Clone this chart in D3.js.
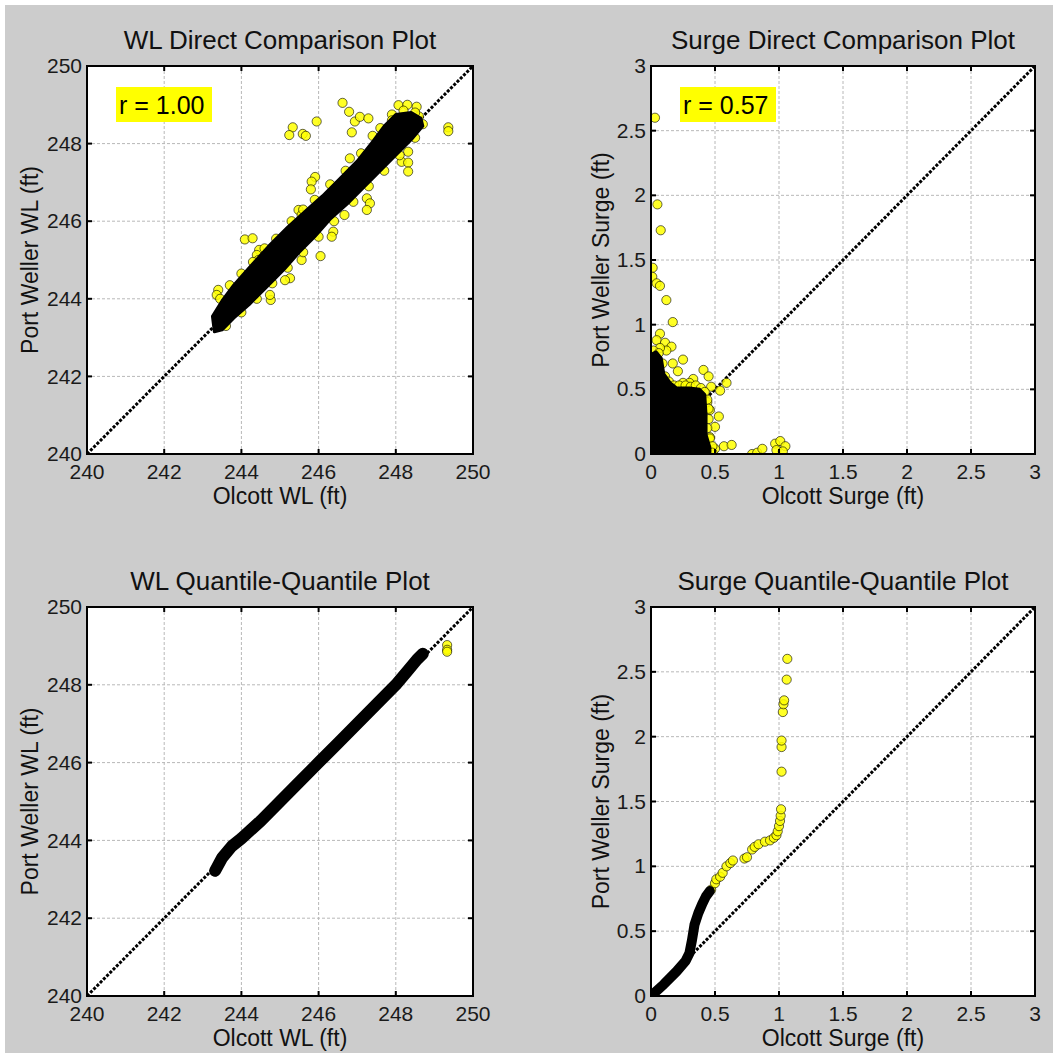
<!DOCTYPE html>
<html>
<head>
<meta charset="utf-8">
<script src="https://d3js.org/d3.v7.min.js"></script>
<style>
  body { margin: 0; background: #fff; }
  text { font-family: "Liberation Sans", Arial, Helvetica, sans-serif; }
</style>
</head>
<body>
<svg id="vis"></svg>
<script>
  var W = 1058, H = 1057

  // ticks
  var wlTicks = [240, 242, 244, 246, 248, 250]
  var surgeTicks = [0, 0.5, 1, 1.5, 2, 2.5, 3]

  // WL direct comparison: dense cloud outline (top edge, bottom edge), edge points and loose points
  var wlBandTop = [[243.25,243.55],[243.5,243.95],[243.8,244.35],[244.2,244.8],[244.7,245.35],[245.2,245.85],
    [245.7,246.3],[246.1,246.65],[246.5,247.05],[247.0,247.55],[247.4,248.05],[247.7,248.45],[248.0,248.75],
    [248.4,248.8],[248.65,248.65]]
  var wlBandBottom = [[248.7,248.45],[248.4,248.1],[248.0,247.7],[247.6,247.3],[247.2,246.9],[246.8,246.5],
    [246.3,246.05],[245.9,245.6],[245.5,245.2],[245.1,244.75],[244.6,244.25],[244.2,243.85],[243.8,243.5],
    [243.5,243.2],[243.3,243.15]]
  var wlEdgePts = [[243.45,244.0],[243.7,244.35],[244.0,244.65],[244.3,244.95],[244.6,245.3],[244.9,245.55],
    [245.3,246.0],[245.6,246.3],[245.9,246.55],[246.3,246.95],[246.7,247.3],[247.1,247.75],[247.4,248.2],
    [247.6,248.4],[247.9,248.6],[248.2,248.85],[248.5,248.8],[243.6,243.3],[244.0,243.65],[244.4,244.0],
    [244.8,244.4],[245.2,244.8],[245.6,245.2],[246.0,245.6],[246.4,246.0],[246.9,246.5],[247.3,246.9],
    [247.7,247.3],[248.1,247.7],[248.5,248.15],[248.7,248.5]]
  var wlDirectPts = [[246.62,249.05],[246.79,248.82],[246.94,248.57],[247.07,248.69],[247.29,248.65],[245.95,248.57],
    [245.33,248.42],[245.24,248.22],[245.59,248.25],[245.67,248.20],[246.86,248.29],[249.36,248.42],[249.36,248.32],
    [248.32,247.79],[248.15,247.53],[248.32,247.51],[248.32,247.28],[246.81,247.62],[245.91,247.14],[245.82,247.02],
    [245.80,246.82],[247.25,246.59],[247.33,246.46],[247.25,246.29],[245.48,246.29],[245.56,246.16],[246.38,245.73],
    [246.05,245.10],[245.56,245.0],[244.09,245.53],[244.29,245.56],[244.46,245.26],[244.40,245.13],[244.44,245.0],
    [245.26,244.53],[245.13,244.48],[244.76,243.97],[244.74,244.10],[243.40,244.23],[243.36,244.10],[248.07,248.99],
    [248.54,248.95],[248.3,249.0],[246.34,245.60],[246.67,246.16],[247.9,248.75],[248.6,248.7]]

  // Surge direct comparison
  var surgeBandTop = [[0,0],[0,0.77],[0.04,0.79],[0.08,0.74],[0.10,0.62],[0.15,0.55],[0.2,0.51],[0.3,0.51],
    [0.38,0.5],[0.42,0.46],[0.43,0.3],[0.43,0.15],[0.46,0.05],[0.46,0]]
  var surgeEdgePts = [[0.02,0.8],[0.06,0.78],[0.09,0.7],[0.11,0.6],[0.14,0.56],[0.18,0.53],[0.22,0.53],[0.27,0.53],
    [0.31,0.52],[0.35,0.53],[0.39,0.51],[0.42,0.48],[0.44,0.42],[0.45,0.35],[0.45,0.27],[0.44,0.2],[0.46,0.12],
    [0.48,0.06],[0.48,0.01]]
  var surgeDirectPts = [[0.031,2.60],[0.05,1.93],[0.076,1.73],[0.013,1.44],[0.01,1.37],[0.044,1.32],[0.07,1.30],
    [0.12,1.19],[0.17,1.02],[0.07,0.93],[0.044,0.88],[0.11,0.86],[0.16,0.83],[0.25,0.73],[0.21,0.64],[0.17,0.70],
    [0.41,0.65],[0.45,0.60],[0.33,0.58],[0.59,0.55],[0.54,0.49],[0.47,0.52],[0.46,0.34],[0.53,0.29],[0.50,0.21],
    [0.46,0.13],[0.50,0.04],[0.57,0.06],[0.63,0.07],[0.79,0.0],[0.83,0.01],[0.87,0.04],[0.97,0.08],[1.01,0.10],
    [1.05,0.06],[0.98,0.03],[1.03,0.02],[0.12,0.8],[0.07,0.82],[0.3,0.55],[0.25,0.55],[0.44,0.4]]

  // WL quantile-quantile
  var wlQQDense = [[243.32,243.22],[243.5,243.55],[243.75,243.85],[244.0,244.05],[244.5,244.5],[245,245],
    [245.5,245.5],[246,246],[246.5,246.5],[247,247],[247.5,247.5],[248,248],[248.3,248.35],[248.55,248.65],[248.7,248.8]]
  var wlQQPts = [[243.32,243.2],[248.6,248.72],[248.7,248.8],[249.33,249.02],[249.33,248.9],[249.33,248.85]]

  // Surge quantile-quantile
  var surgeQQDense = [[0,0],[0.1,0.09],[0.2,0.19],[0.27,0.27],[0.3,0.33],[0.32,0.43],[0.34,0.55],[0.37,0.64],
    [0.4,0.71],[0.43,0.77],[0.46,0.81]]
  var surgeQQPts = [[0.47,0.82],[0.50,0.87],[0.51,0.90],[0.54,0.92],[0.56,0.95],[0.59,1.0],[0.62,1.025],[0.64,1.045],
    [0.73,1.06],[0.75,1.07],[0.79,1.13],[0.81,1.15],[0.84,1.17],[0.89,1.19],[0.93,1.2],[0.96,1.22],[0.98,1.24],
    [0.99,1.27],[1.0,1.31],[1.008,1.35],[1.013,1.39],[1.016,1.44],[1.02,1.73],[1.02,1.92],[1.02,1.97],[1.03,2.19],
    [1.035,2.25],[1.04,2.28],[1.06,2.44],[1.065,2.60]]

  var svg = d3.select('#vis').attr('width', W).attr('height', H)

  svg.append('rect')
    .attr('x', 5).attr('y', 5)
    .attr('width', 1048).attr('height', 1048)
    .attr('fill', '#cccccc')

  var panels = [
    { id: 'p1', left: 87, top: 66, w: 386, h: 388, dom: [240, 250], ticks: wlTicks,
      title: 'WL Direct Comparison Plot', xlab: 'Olcott WL (ft)', ylab: 'Port Weller WL (ft)', ylabOff: 49, r: 'r = 1.00' },
    { id: 'p2', left: 651, top: 66, w: 384, h: 388, dom: [0, 3], ticks: surgeTicks,
      title: 'Surge Direct Comparison Plot', xlab: 'Olcott Surge (ft)', ylab: 'Port Weller Surge (ft)', ylabOff: 42, r: 'r = 0.57' },
    { id: 'p3', left: 87, top: 607, w: 386, h: 389, dom: [240, 250], ticks: wlTicks,
      title: 'WL Quantile-Quantile Plot', xlab: 'Olcott WL (ft)', ylab: 'Port Weller WL (ft)', ylabOff: 49 },
    { id: 'p4', left: 651, top: 607, w: 384, h: 389, dom: [0, 3], ticks: surgeTicks,
      title: 'Surge Quantile-Quantile Plot', xlab: 'Olcott Surge (ft)', ylab: 'Port Weller Surge (ft)', ylabOff: 42 }
  ]

  function setupPanel(p) {
    var g = svg.append('g').attr('transform', 'translate(' + p.left + ',' + p.top + ')')
    p.x = d3.scaleLinear().domain(p.dom).range([0, p.w])
    p.y = d3.scaleLinear().domain(p.dom).range([p.h, 0])

    g.append('clipPath').attr('id', 'clip-' + p.id)
      .append('rect').attr('width', p.w).attr('height', p.h)

    g.append('rect').attr('width', p.w).attr('height', p.h).attr('fill', '#fff')

    // grid
    var inner = p.ticks.slice(1, -1)
    g.selectAll('.gx').data(inner).enter().append('line')
      .attr('x1', d => p.x(d)).attr('x2', d => p.x(d))
      .attr('y1', 0).attr('y2', p.h)
      .attr('stroke', '#b8b8b8').attr('stroke-width', 1).attr('stroke-dasharray', '3,2')
    g.selectAll('.gy').data(inner).enter().append('line')
      .attr('y1', d => p.y(d)).attr('y2', d => p.y(d))
      .attr('x1', 0).attr('x2', p.w)
      .attr('stroke', '#b8b8b8').attr('stroke-width', 1).attr('stroke-dasharray', '3,2')

    // 1:1 line
    g.append('line')
      .attr('x1', p.x(p.dom[0])).attr('y1', p.y(p.dom[0]))
      .attr('x2', p.x(p.dom[1])).attr('y2', p.y(p.dom[1]))
      .attr('stroke', '#000').attr('stroke-width', 3).attr('stroke-dasharray', '3,1.6')

    p.plot = g.append('g').attr('clip-path', 'url(#clip-' + p.id + ')')
    p.g = g
    return p
  }

  function finishPanel(p) {
    var g = p.g
    g.append('rect').attr('width', p.w).attr('height', p.h)
      .attr('fill', 'none').attr('stroke', '#000').attr('stroke-width', 2)

    var tl = 5
    p.ticks.forEach(function (t) {
      g.append('line').attr('x1', p.x(t)).attr('x2', p.x(t)).attr('y1', p.h).attr('y2', p.h - tl)
        .attr('stroke', '#000').attr('stroke-width', 2)
      g.append('line').attr('x1', p.x(t)).attr('x2', p.x(t)).attr('y1', 0).attr('y2', tl)
        .attr('stroke', '#000').attr('stroke-width', 2)
      g.append('line').attr('y1', p.y(t)).attr('y2', p.y(t)).attr('x1', 0).attr('x2', tl)
        .attr('stroke', '#000').attr('stroke-width', 2)
      g.append('line').attr('y1', p.y(t)).attr('y2', p.y(t)).attr('x1', p.w).attr('x2', p.w - tl)
        .attr('stroke', '#000').attr('stroke-width', 2)

      g.append('text').attr('x', p.x(t)).attr('y', p.h + 25)
        .attr('text-anchor', 'middle').attr('font-size', 21).attr('fill', '#1a1a1a')
        .text(t)
      g.append('text').attr('x', -5).attr('y', p.y(t)).attr('dy', '0.34em')
        .attr('text-anchor', 'end').attr('font-size', 21).attr('fill', '#1a1a1a')
        .text(t)
    })

    g.append('text').attr('x', p.w / 2).attr('y', -17)
      .attr('text-anchor', 'middle').attr('font-size', 26).attr('fill', '#111')
      .text(p.title)
    g.append('text').attr('x', p.w / 2).attr('y', p.h + 50)
      .attr('text-anchor', 'middle').attr('font-size', 23).attr('fill', '#111')
      .text(p.xlab)
    g.append('text')
      .attr('transform', 'translate(' + (-p.ylabOff) + ',' + (p.h / 2) + ') rotate(-90)')
      .attr('text-anchor', 'middle').attr('font-size', 23).attr('fill', '#111')
      .text(p.ylab)

    if (p.r) {
      var bx = 29, by = 21
      g.append('rect').attr('x', bx).attr('y', by).attr('width', 96).attr('height', 35)
        .attr('fill', '#ffff00')
      g.append('text').attr('x', bx + 3).attr('y', by + 27)
        .attr('font-size', 25).attr('fill', '#000')
        .text(p.r)
    }
  }

  function dots(p, pts) {
    p.plot.selectAll(null).data(pts).enter().append('circle')
      .attr('cx', d => p.x(d[0])).attr('cy', d => p.y(d[1]))
      .attr('r', 4.6)
      .attr('fill', '#ffff00').attr('fill-opacity', 0.85)
      .attr('stroke', '#000').attr('stroke-opacity', 0.6).attr('stroke-width', 1)
  }

  panels.forEach(setupPanel)

  // panel 1
  var p1 = panels[0]
  dots(p1, wlDirectPts)
  dots(p1, wlEdgePts)
  p1.plot.append('path')
    .attr('d', d3.line().x(d => p1.x(d[0])).y(d => p1.y(d[1]))(wlBandTop.concat(wlBandBottom)) + 'Z')
    .attr('fill', '#000').attr('stroke', '#000').attr('stroke-width', 3).attr('stroke-linejoin', 'round')

  // panel 2
  var p2 = panels[1]
  dots(p2, surgeDirectPts)
  dots(p2, surgeEdgePts)
  p2.plot.append('path')
    .attr('d', d3.line().x(d => p2.x(d[0])).y(d => p2.y(d[1]))(surgeBandTop) + 'Z')
    .attr('fill', '#000').attr('stroke', '#000').attr('stroke-width', 3).attr('stroke-linejoin', 'round')

  // panel 3
  var p3 = panels[2]
  dots(p3, wlQQPts)
  p3.plot.append('path')
    .attr('d', d3.line().x(d => p3.x(d[0])).y(d => p3.y(d[1]))(wlQQDense))
    .attr('fill', 'none').attr('stroke', '#000').attr('stroke-width', 12)
    .attr('stroke-linecap', 'round').attr('stroke-linejoin', 'round')

  // panel 4
  var p4 = panels[3]
  dots(p4, surgeQQPts)
  p4.plot.append('path')
    .attr('d', d3.line().x(d => p4.x(d[0])).y(d => p4.y(d[1]))(surgeQQDense))
    .attr('fill', 'none').attr('stroke', '#000').attr('stroke-width', 10)
    .attr('stroke-linecap', 'round').attr('stroke-linejoin', 'round')

  panels.forEach(finishPanel)
</script>
</body>
</html>
